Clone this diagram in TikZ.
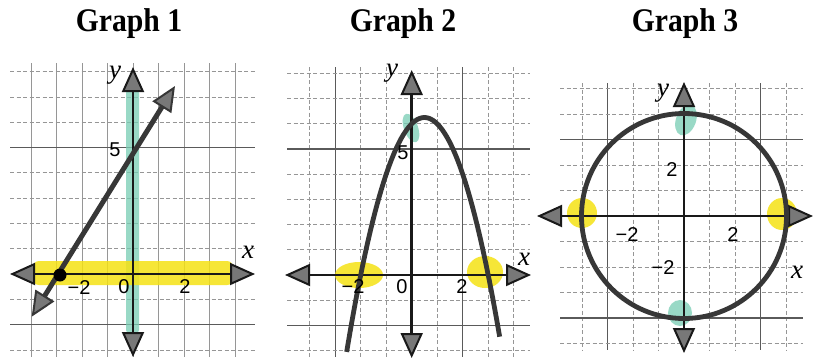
\documentclass[tikz,border=0pt]{standalone}
\usepackage{graphicx}
\usepackage{fontspec}
\setmainfont{Liberation Serif}
\newfontfamily\numfont{Liberation Sans}
\usetikzlibrary{arrows.meta}
\definecolor{hlyellow}{RGB}{245,226,20}
\definecolor{hlteal}{RGB}{120,205,180}
\definecolor{axisc}{RGB}{25,25,25}
\definecolor{curvec}{RGB}{55,55,55}
\definecolor{tipfill}{RGB}{120,120,120}
\definecolor{gridc}{RGB}{150,150,150}
\tikzset{
  gridsolid/.style={gridc, line width=0.9pt},
  griddash/.style={gridc, line width=0.8pt, dash pattern=on 4pt off 2.5pt},
  gridbold/.style={gridc!60!black, line width=1.3pt},
  bigtip/.tip={Triangle[length=25pt,width=22pt,fill=tipfill,line width=2pt]},
  axisline/.style={axisc, line width=2.6pt, bigtip-bigtip},
  curveline/.style={curvec, line width=4.8pt},
  arrowcurve/.style={curvec, line width=5pt, bigtip-bigtip},
  hly/.style={fill=hlyellow, opacity=0.85},
  hlt/.style={fill=hlteal, opacity=0.75},
  title/.style={anchor=base, font=\bfseries\fontsize{33}{36}\selectfont},
  numlab/.style={font=\numfont\fontsize{20}{22}\selectfont, inner sep=0pt},
  varlab/.style={font=\itshape\fontsize{27}{28}\selectfont, inner sep=0pt},
}
\begin{document}
\begin{tikzpicture}[x=1pt,y=-1pt]
\useasboundingbox (0,0) rectangle (814,360);
\fill[white] (0,0) rectangle (814,360);

% titles
\node[title] (t1) at (129,31.7) {\scalebox{0.9}[1]{Graph 1}};
\node[title] (t2) at (403,31.7) {\scalebox{0.9}[1]{Graph 2}};
\node[title] (t3) at (685,31.7) {\scalebox{0.9}[1]{Graph 3}};

% ================= Graph 1 =================
\foreach \k in {-4,...,4}{
  \draw[gridsolid] ({133+25.5*\k},63) -- ({133+25.5*\k},357);
}
\foreach \j in {-3,-1,1,2,3,4,6,7,8}{
  \draw[griddash] (10,{274-25.3*\j}) -- (255,{274-25.3*\j});
}
\foreach \j in {-2,5}{
  \draw[gridbold] (10,{274-25.3*\j}) -- (255,{274-25.3*\j});
}
\fill[hlt, rounded corners=3pt] (126,90) rectangle (139,333);
\fill[hly, rounded corners=6pt] (33,261) rectangle (233,285);
\coordinate (g1xl) at (10,274);
\coordinate (g1xr) at (255,274);
\coordinate (g1yb) at (133,357);
\coordinate (g1yt) at (133,67);
\draw[axisline] (g1xl) -- (g1xr);
\draw[axisline] (g1yb) -- (g1yt);
\coordinate (l1a) at (31.7,316.7);
\coordinate (l1b) at (175,86);
\draw[arrowcurve] (l1a) -- (l1b);
\node[circle, fill=black, inner sep=0pt, minimum size=13pt] (dot1) at (60,275) {};
\node[varlab] (g1y) at (115,75) {y};
\node[varlab] (g1x) at (248,252) {x};
\node[numlab] (g1n5) at (115,150) {5};
\node[numlab] (g1nm2) at (79,288) {−2};
\node[numlab] (g1n0) at (124,287) {0};
\node[numlab] (g1n2) at (185,287) {2};

% ================= Graph 2 =================
\foreach \k in {-4,-2,-1,1,3,4}{
  \draw[griddash] ({411.7+25.5*\k},67) -- ({411.7+25.5*\k},357);
}
\foreach \k in {-3,2}{
  \draw[gridbold] ({411.7+25.5*\k},67) -- ({411.7+25.5*\k},357);
}
\foreach \j in {-3,-1,1,2,3,4,6,7,8}{
  \draw[griddash] (287,{275-25.2*\j}) -- (530,{275-25.2*\j});
}
\foreach \j in {-2,5}{
  \draw[gridbold] (287,{275-25.2*\j}) -- (530,{275-25.2*\j});
}
\fill[hly] (359,275) ellipse [x radius=24pt, y radius=13pt];
\fill[hly] (485,272) ellipse [x radius=18pt, y radius=16pt];
\fill[hlt, rotate around={20:(411,128)}] (411,128) ellipse [x radius=7pt, y radius=15pt];
\coordinate (g2xl) at (285,275);
\coordinate (g2xr) at (531,275);
\coordinate (g2yb) at (411.7,358);
\coordinate (g2yt) at (411.7,70);
\draw[axisline] (g2xl) -- (g2xr);
\draw[axisline] (g2yb) -- (g2yt);
\begin{scope}[shift={(411.7,275)}, x=25.5pt, y=25.2pt]
  \draw[curveline] plot[domain=-2.55:3.45, samples=70, smooth] (\x, {6+(\x)-(\x)*(\x)});
\end{scope}
\node[varlab] (g2y) at (392,73) {y};
\node[varlab] (g2x) at (524,259) {x};
\node[numlab] (g2n5) at (403,153) {5};
\node[numlab] (g2nm2) at (353,287) {−2};
\node[numlab] (g2n0) at (402,287) {0};
\node[numlab] (g2n2) at (462,287) {2};

% ================= Graph 3 =================
\foreach \k in {-4,-2,-1,1,2,4}{
  \draw[griddash] ({684+25.5*\k},83) -- ({684+25.5*\k},350);
}
\foreach \k in {-3,3}{
  \draw[gridbold] ({684+25.5*\k},83) -- ({684+25.5*\k},350);
}
\foreach \j in {-5,-4,-2,-1,1,2,3,5}{
  \draw[griddash] (560,{216+25.5*\j}) -- (803,{216+25.5*\j});
}
\foreach \j in {-3,4}{
  \draw[gridbold] (560,{216+25.5*\j}) -- (803,{216+25.5*\j});
}
\fill[hly] (582,213) ellipse [x radius=15pt, y radius=15pt];
\fill[hly] (782,214) ellipse [x radius=15pt, y radius=16pt];
\fill[hlt, rotate around={-20:(686,120)}] (686,120) ellipse [x radius=10pt, y radius=16pt];
\fill[hlt] (680,313) ellipse [x radius=12pt, y radius=13pt];
\coordinate (g3xl) at (537,216);
\coordinate (g3xr) at (813,216);
\coordinate (g3yb) at (684,353);
\coordinate (g3yt) at (684,82);
\draw[axisline] (g3xl) -- (g3xr);
\draw[axisline] (g3yb) -- (g3yt);
\coordinate (c3) at (684,216);
\draw[curveline] (c3) circle [radius=102.5pt];
\node[varlab] (g3y) at (663,93) {y};
\node[varlab] (g3x) at (797,272) {x};
\node[numlab] (g3n2y) at (672,170) {2};
\node[numlab] (g3nm2x) at (627,235) {−2};
\node[numlab] (g3n2x) at (733,235) {2};
\node[numlab] (g3nm2y) at (663,268) {−2};
\end{tikzpicture}
\end{document}
